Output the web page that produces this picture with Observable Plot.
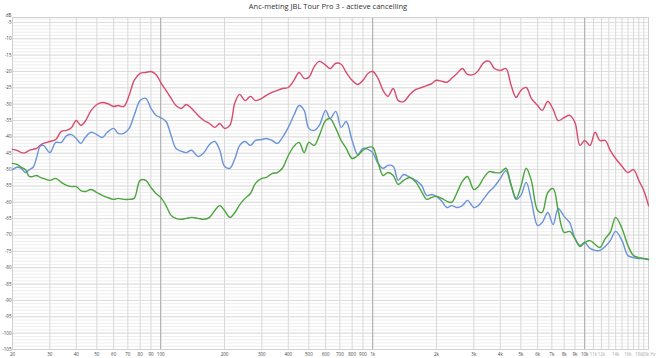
<!DOCTYPE html>
<html><head><meta charset="utf-8">
<script src="https://cdn.jsdelivr.net/npm/d3@7"></script>
<script src="https://cdn.jsdelivr.net/npm/@observablehq/plot@0.6"></script>
<style>
html,body{margin:0;padding:0;background:#fff;}
#wrap{position:relative;width:656px;height:358px;font-family:"Open Sans",sans-serif;}
#title{position:absolute;left:0;top:0px;width:656px;text-align:center;font-size:7.5px;color:#333;line-height:12px;}
svg{display:block;}
</style></head><body><div id="wrap"><div id="title">Anc-meting JBL Tour Pro 3 - actieve cancelling</div></div>
<script>
const freqs = [20,21,22,23,24,25,26,27,28,30,32,34,36,38,40,42,44,47,50,53,56,60,63,67,71,75,80,85,90,95,
100,106,112,118,125,132,140,150,160,170,180,190,200,212,224,236,250,265,280,300,315,335,355,375,400,425,450,475,500,530,560,600,630,670,710,750,800,850,900,950,
1000,1060,1120,1180,1250,1320,1400,1500,1600,1700,1800,1900,2000,2120,2240,2360,2500,2650,2800,3000,3150,3350,3550,3750,4000,4250,4500,4750,5000,5300,5600,6000,6300,6700,7100,7500,8000,8500,9000,9500,
10000,10600,11200,11800,12500,13200,14000,15000,16000,17000,18000,19000,20000];

const redDb = [-43.8,-44.1,-44.8,-44.8,-44.1,-43.8,-43.5,-42.6,-42.0,-41.4,-40.8,-38.3,-38.0,-37.1,-35.0,-36.5,-35.3,-31.9,-30.1,-29.5,-29.8,-30.7,-30.4,-30.7,-27.3,-22.7,-20.6,-20.3,-20.0,-20.9,
-23.3,-25.8,-28.2,-30.4,-31.3,-30.1,-31.3,-33.4,-35.0,-35.9,-37.1,-35.9,-37.4,-36.5,-29.5,-27.0,-28.9,-27.6,-28.9,-28.2,-27.3,-26.4,-25.8,-25.2,-24.9,-22.7,-20.3,-22.1,-21.8,-18.5,-16.9,-18.1,-19.1,-17.5,-17.8,-20.3,-22.7,-24.0,-22.7,-20.6,
-20.0,-22.1,-25.8,-27.6,-25.2,-28.9,-29.2,-27.0,-25.5,-24.9,-24.3,-23.7,-22.7,-23.0,-23.3,-22.1,-20.6,-19.1,-20.9,-20.9,-19.7,-17.2,-16.9,-19.1,-19.7,-19.1,-24.3,-27.9,-25.8,-24.9,-28.2,-30.4,-31.9,-29.2,-31.6,-35.0,-34.1,-33.4,-35.6,-42.6,
-41.1,-42.6,-38.6,-41.1,-41.1,-44.1,-46.6,-49.0,-50.9,-50.0,-53.3,-56.4,-61.0];

const blueDb = [-50.0,-49.3,-49.6,-50.9,-50.0,-49.3,-46.3,-42.9,-42.6,-44.8,-41.7,-41.7,-39.6,-39.3,-40.5,-42.0,-40.2,-38.6,-39.3,-40.2,-38.6,-37.4,-38.9,-38.9,-37.4,-33.4,-28.9,-28.2,-31.3,-33.4,
-34.1,-35.3,-39.6,-43.5,-44.4,-44.8,-44.1,-46.0,-44.8,-42.3,-41.4,-44.1,-49.0,-49.6,-46.6,-42.6,-41.4,-42.6,-41.1,-40.8,-40.5,-41.1,-42.0,-40.2,-37.1,-33.4,-30.4,-31.9,-37.4,-38.0,-36.5,-31.9,-34.4,-32.2,-37.1,-35.3,-41.1,-45.4,-43.5,-43.8,
-44.8,-48.1,-49.6,-48.7,-49.0,-53.3,-51.5,-52.4,-53.3,-54.8,-57.9,-57.6,-58.2,-59.7,-61.6,-61.0,-61.6,-61.0,-59.4,-61.6,-61.0,-58.8,-56.7,-55.2,-52.7,-50.3,-54.8,-59.1,-57.9,-53.9,-59.4,-67.1,-66.2,-63.1,-66.8,-61.9,-64.3,-66.2,-71.1,-73.2,
-72.3,-74.1,-74.7,-74.7,-73.5,-71.7,-68.9,-71.7,-76.3,-76.9,-77.2,-77.2,-77.5];

const greenDb = [-48.1,-48.4,-49.3,-50.0,-52.1,-52.1,-51.8,-52.4,-52.7,-53.3,-52.7,-53.9,-54.8,-55.2,-55.2,-56.4,-56.7,-56.1,-57.0,-57.9,-58.5,-59.1,-58.8,-59.1,-59.1,-58.8,-53.3,-53.3,-55.5,-57.3,
-58.5,-61.0,-64.0,-64.9,-65.2,-64.9,-64.6,-64.9,-65.2,-64.6,-62.5,-61.0,-62.5,-64.6,-63.1,-60.7,-58.8,-57.3,-54.2,-52.7,-52.4,-51.2,-50.9,-49.6,-45.7,-42.9,-41.7,-44.8,-41.7,-42.6,-39.6,-35.0,-34.4,-37.4,-41.1,-43.5,-46.6,-45.7,-44.1,-43.2,
-43.2,-47.8,-51.8,-50.9,-51.8,-54.5,-53.3,-52.4,-53.9,-56.7,-59.1,-58.5,-58.2,-58.8,-59.7,-60.0,-57.0,-53.6,-52.1,-56.1,-55.2,-52.4,-50.6,-50.9,-50.9,-49.6,-54.8,-58.8,-55.2,-49.6,-53.3,-62.5,-63.1,-57.0,-55.8,-62.5,-69.2,-68.9,-71.1,-73.5,
-72.3,-71.7,-72.9,-73.8,-71.1,-69.2,-64.6,-68.0,-73.2,-76.3,-76.9,-77.2,-77.5];

const yTicks = [-5,-10,-15,-20,-25,-30,-35,-40,-45,-50,-55,-60,-65,-70,-75,-80,-85,-90,-95,-100,-105];
const xTicks = [20,30,40,50,60,70,80,90,100,200,300,400,500,600,700,800,900,1000,2000,3000,4000,5000,6000,7000,8000,9000,10000,11000,12000,14000,16000,18000,20000];
const xTickLabels = ["20","30","40","50","60","70","80","90","100","200","300","400","500","600","700","800","900","1k","2k","3k","4k","5k","6k","7k","8k","9k","10k","11k","12k","14k","16k","18k","20k Hz"];
const extraGrid = [13000,15000,17000,19000];
const majorGrid = [100,1000,10000];

const series = [
  {name:"red", color:"#d84b6c", values:redDb},
  {name:"blue", color:"#6b93d9", values:blueDb},
  {name:"green", color:"#4ba43c", values:greenDb}
];
const rows = series.flatMap(s => freqs.map((f,i)=>({f, db:s.values[i], s:s.name})));
const xt = xTicks.map((f,i)=>({f, label:xTickLabels[i], light: f>10000}));

const chart = Plot.plot({
  width:656, height:358,
  marginLeft:12, marginRight:8, marginTop:17, marginBottom:9,
  style:{fontFamily:"'Open Sans', sans-serif", background:"transparent"},
  x:{type:"log", domain:[20,20000], axis:null},
  y:{domain:[-105,-3.5], axis:null},
  marks:[
    Plot.ruleY(d3.range(-4,-106,-1), {stroke:"#eeeeee", strokeWidth:1}),
    Plot.ruleY(yTicks, {stroke:"#dddddd", strokeWidth:1}),
    Plot.ruleX(xTicks.concat(extraGrid), {stroke:"#d8d8d8", strokeWidth:1}),
    Plot.ruleX(majorGrid, {stroke:"#acacac", strokeWidth:1}),
    Plot.frame({stroke:"#d0d0d0"}),
    ...series.map(s => Plot.line(rows.filter(r=>r.s===s.name), {x:"f", y:"db", stroke:s.color, strokeWidth:1.4, curve:"catmull-rom"})),
    Plot.text(yTicks, {x:20, y:d=>d, text:d=>String(d), textAnchor:"end", dx:-1, fontSize:4.5, fill:"#444"}),
    Plot.text(["dB"], {x:20, y:-2.9, text:d=>d, textAnchor:"end", dx:-1, fontSize:4.5, fill:"#444"}),
    Plot.text(xt, {x:"f", y:-105, text:"label", dy:5, fontSize:4.5, fill:d=>d.light?"#aaa":"#444"})
  ]
});
document.getElementById("wrap").appendChild(chart);
</script>
</body></html>
